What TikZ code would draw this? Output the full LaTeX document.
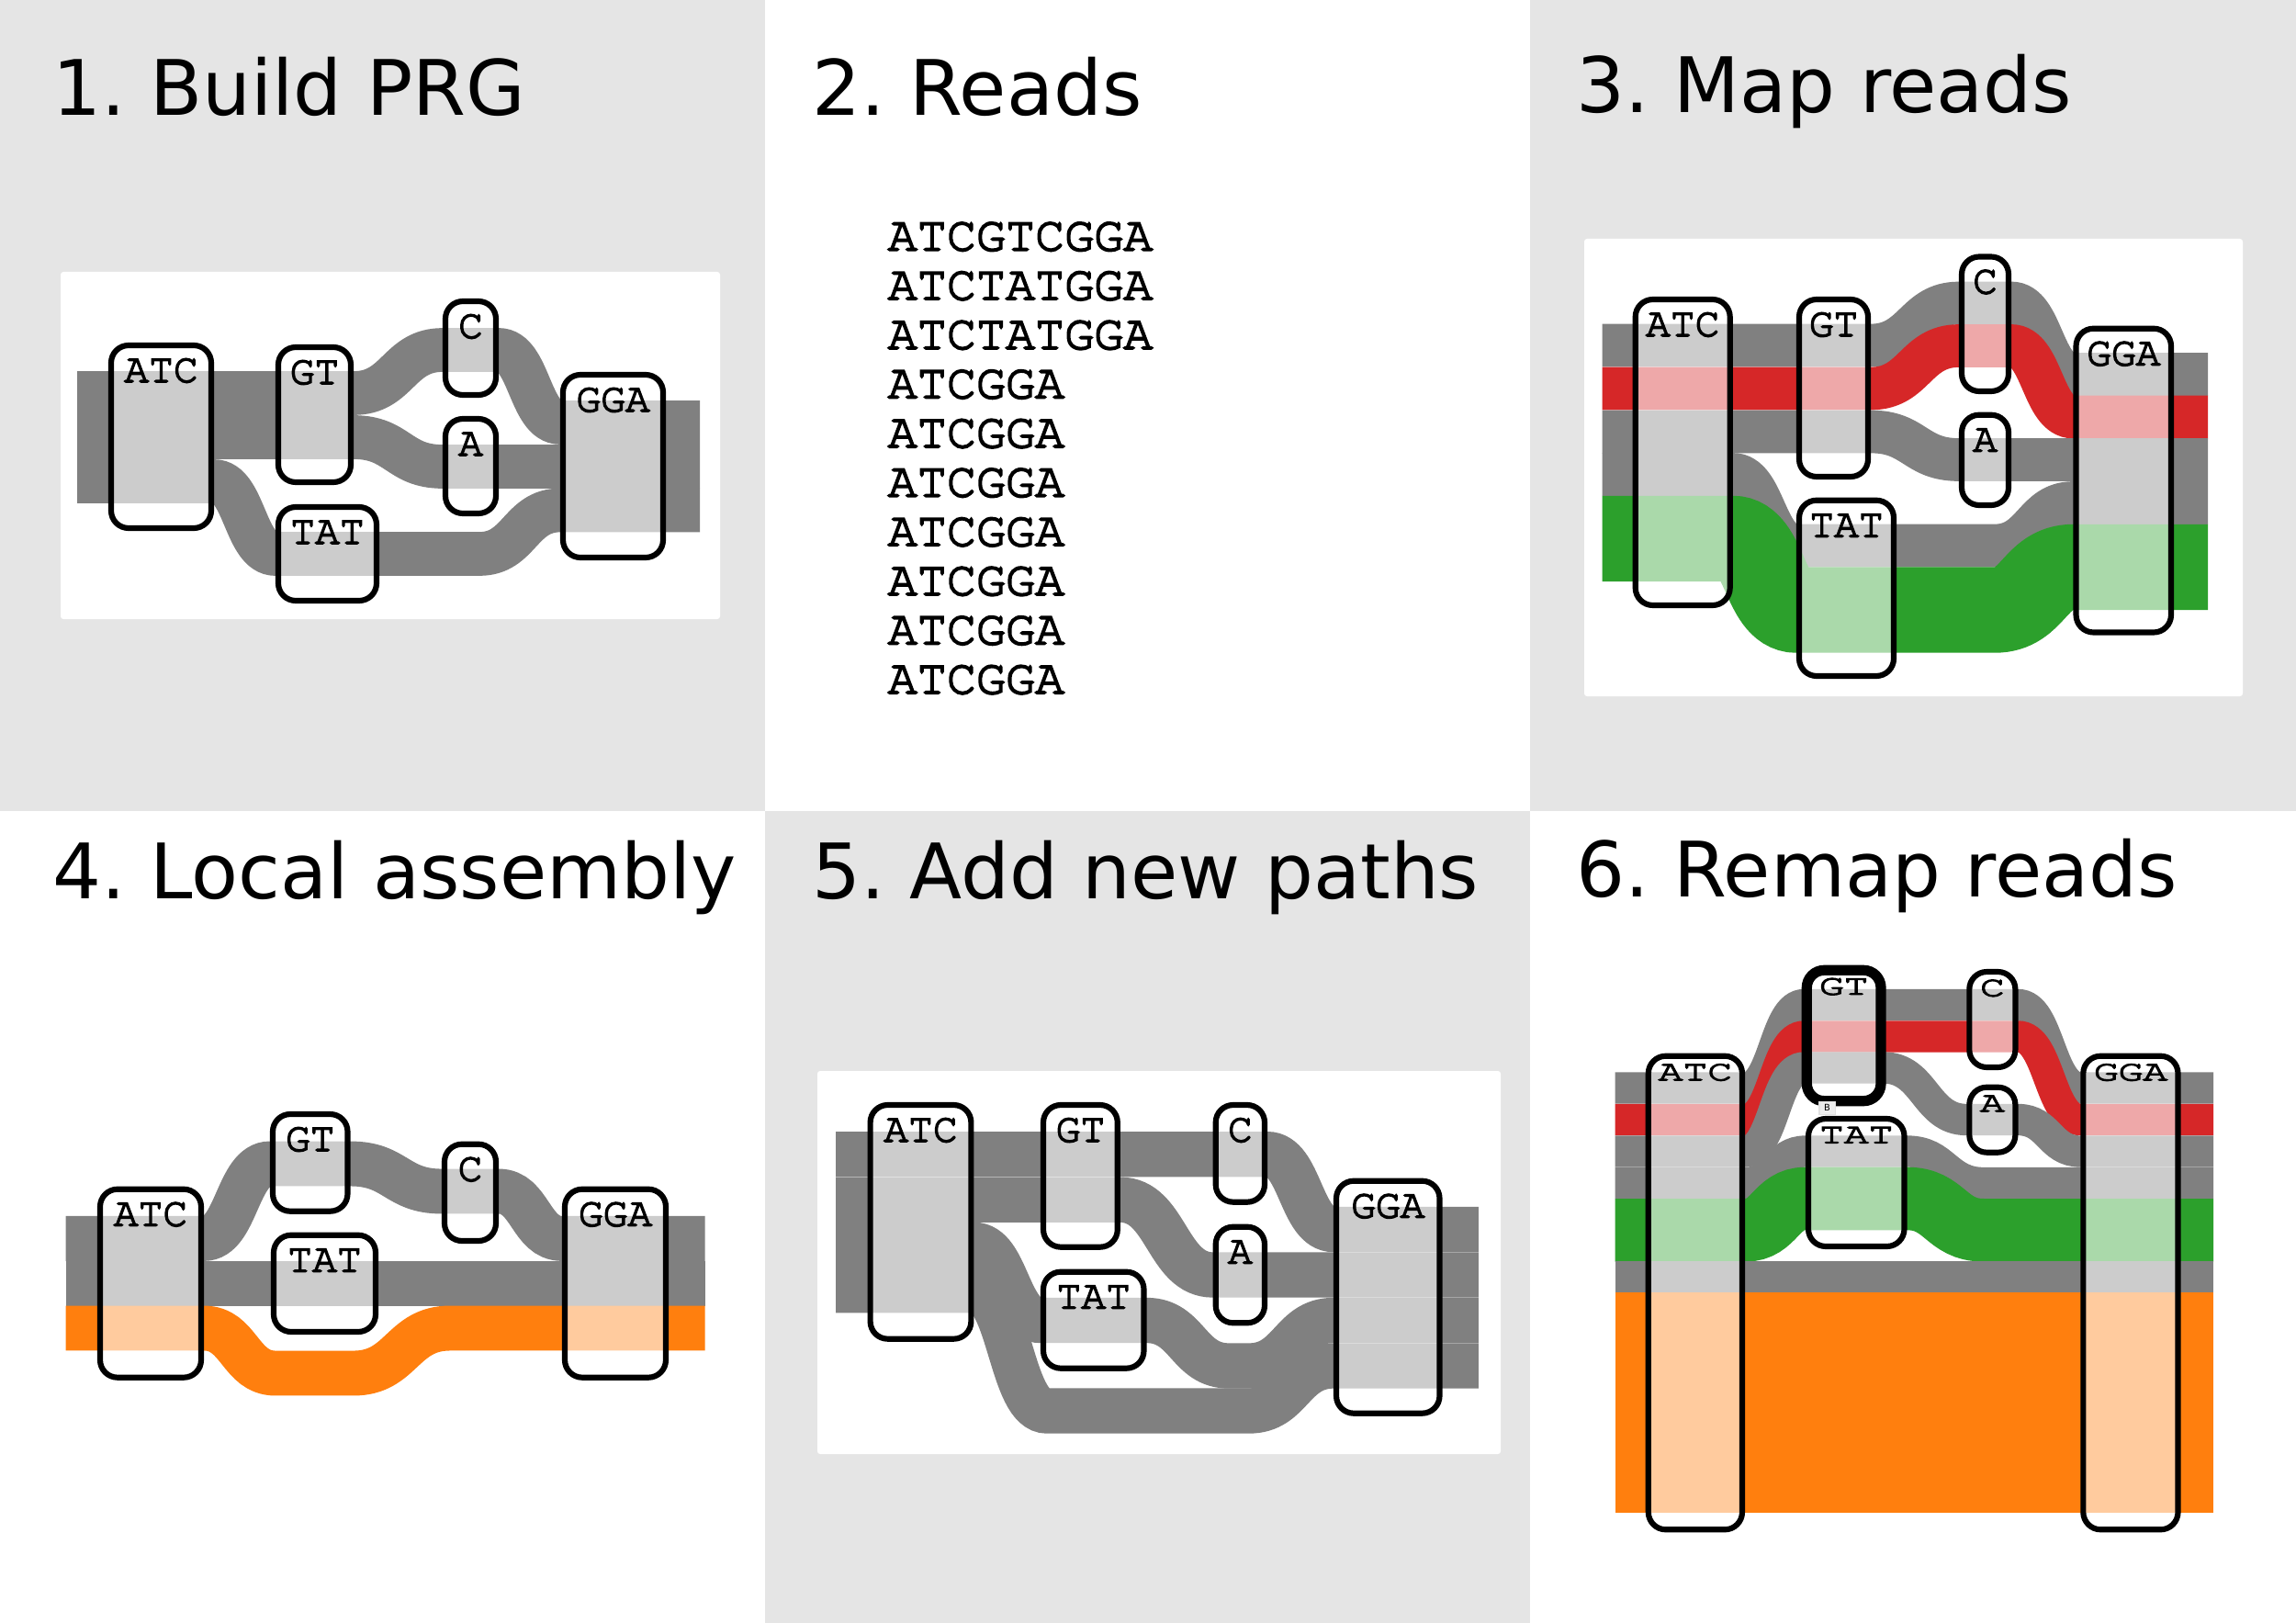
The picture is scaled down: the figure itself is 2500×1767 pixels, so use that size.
\documentclass[tikz,border=0pt]{standalone}
\usepackage{fontspec}
\usepackage{graphicx}
\usetikzlibrary{calc}
\frenchspacing
\newfontfamily\titlefont{DejaVu Sans}
\newfontfamily\seqfont{texgyrecursor}[Extension=.otf, UprightFont=*-regular, FakeBold=3.5]
\definecolor{bgg}{HTML}{E5E5E5}
\definecolor{fgray}{HTML}{808080}
\definecolor{fred}{HTML}{D62728}
\definecolor{fgreen}{HTML}{2CA02C}
\definecolor{forange}{HTML}{FF7F0E}
\tikzset{
  sk/.style={to path={let \p1=(\tikztostart), \p2=(\tikztotarget) in
     .. controls ({(\x1+\x2)/2},\y1) and ({(\x1+\x2)/2},\y2) .. (\tikztotarget)}},
  flow/.style={line width=#1*0.01cm},
  box/.style={draw=black, line width=1.75pt, fill=white, fill opacity=0.6, draw opacity=1,
     rounded corners=0.19cm, inner sep=0pt, outer sep=0pt},
  boldbox/.style={line width=3.2pt},
  lab/.style={font=\seqfont\fontsize{12.7}{14}\selectfont, inner sep=0pt, text=black},
  title/.style={font=\titlefont\fontsize{23.7}{28}\selectfont, inner sep=0pt, anchor=base west},
  reads/.style={font=\seqfont\fontsize{15.2}{17}\selectfont, inner sep=0pt, anchor=base west},
}
\newcommand\bx[7][]{%
  \node[box,#1, minimum width={(#5-#3-6)*0.01cm}, minimum height={(#6-#4-6)*0.01cm}] (#2) at ({(#3+#5)/2},{(#4+#6)/2}) {};
  \node[lab, anchor=base] (#2t) at ({(#3+#5)/2},{#4+43}) {#7};}
\newcommand\bxs[7][]{%
  \node[box,#1, minimum width={(#5-#3-6)*0.01cm}, minimum height={(#6-#4-6)*0.01cm}] (#2) at ({(#3+#5)/2},{(#4+#6)/2}) {};
  \node[lab, anchor=base] (#2t) at ({(#3+#5)/2},{#4+29.6}) {\scalebox{1}[0.7]{#7}};}
\begin{document}
\begin{tikzpicture}[x=0.01cm,y=-0.01cm]
\useasboundingbox (0,0) rectangle (2500,1767);
% panel backgrounds
\fill[white] (0,0) rectangle (2500,1767);
\fill[bgg] (0,0) rectangle (833,883);
\fill[bgg] (1666,0) rectangle (2500,883);
\fill[bgg] (833,883) rectangle (1666,1767);
\fill[white, rounded corners=0.03cm] (66,296) rectangle (784,674);
\fill[white, rounded corners=0.03cm] (1725,260) rectangle (2442,758);
\fill[white, rounded corners=0.03cm] (890,1166) rectangle (1634,1583);
% titles
\node[title] (t1) at (57,126) {1. Build PRG};
\node[title] (t2) at (884,126) {2. Reads};
\node[title] (t3) at (1716,123) {3. Map reads};
\node[title] (t4) at (57,978) {4. Local assembly};
\node[title] (t5) at (884,978) {5. Add new paths};
\node[title] (t6) at (1716,976) {6. Remap reads};
% reads
\foreach \s [count=\i from 0] in {ATCGTCGGA,ATCTATGGA,ATCTATGGA,ATCGGA,ATCGGA,ATCGGA,ATCGGA,ATCGGA,ATCGGA,ATCGGA}
  \node[reads] (r\i) at (966,{272.7+53.6*\i}) {\s};
% ---------- panel 1 ----------
\draw[fgray, flow=47.7] (84,428) -- (233,428) to[sk] (300,428) -- (385,428) to[sk] (482,381) -- (543,381) to[sk] (610,460) -- (762,460);
\draw[fgray, flow=47.7] (84,476) -- (385,476) to[sk] (482,508) -- (762,508);
\draw[fgray, flow=47.7] (84,524) -- (233,524) to[sk] (300,603) -- (522,603) to[sk] (610,555.5) -- (762,555.5);
\bx{aatc}{118}{373}{233}{578}{ATC}
\bx{agt}{300}{375}{385}{528}{GT}
\bx{ac}{482}{325}{543}{433}{C}
\bx{aa}{482}{453}{543}{562}{A}
\bx{atat}{300}{549}{413}{657}{TAT}
\bx{agga}{610}{405}{725}{610}{GGA}
% ---------- panel 3 ----------
\draw[fgray, flow=46.7] (1744.7,376) -- (2037,376) to[sk] (2133,330) -- (2190,330) to[sk] (2257.5,407.5) -- (2404,407.5);
\draw[fred, flow=46.7] (1744.7,423) -- (2037,423) to[sk] (2133,376.5) -- (2190,376.5) to[sk] (2257.5,454) -- (2404,454);
\draw[fgray, flow=46.7] (1744.7,470) -- (2037,470) to[sk] (2133,500.5) -- (2404,500.5);
\draw[fgray, flow=46.7] (1744.7,516.5) -- (1886.7,516.5) to[sk] (1956,594) -- (2172,594) to[sk] (2257.5,547.5) -- (2404,547.5);
\draw[fgreen, flow=93.4] (1744.7,586.5) -- (1886.7,586.5) to[sk] (1956,664) -- (2172,664) to[sk] (2257.5,617.5) -- (2404,617.5);
\bx{catc}{1777.7}{323}{1886.7}{662}{ATC}
\bx{cgt}{1956}{323}{2037}{522}{GT}
\bx{cc}{2133}{276.5}{2190}{429}{C}
\bx{ca}{2133}{448.7}{2190}{553}{A}
\bx{ctat}{1956}{541.7}{2065}{739}{TAT}
\bx{cgga}{2257.5}{354.7}{2367}{691.5}{GGA}
% ---------- panel 4 ----------
\draw[fgray, flow=48.9] (71.7,1348.4) -- (222,1348.4) to[sk] (294,1267) -- (381.5,1267) to[sk] (481,1297) -- (543,1297) to[sk] (612,1348.4) -- (767.7,1348.4);
\draw[fgray, flow=48.9] (71.7,1397.2) -- (767.7,1397.2);
\draw[forange, flow=48.9] (71.7,1446) -- (222,1446) to[sk] (300,1495) -- (385,1495) to[sk] (490,1446) -- (767.7,1446);
\bx{datc}{106}{1291.7}{222}{1502.7}{ATC}
\bx{dgt}{294}{1210}{381.5}{1321.7}{GT}
\bx{dc}{481}{1242.7}{543}{1354}{C}
\bx{dtat}{295}{1341.7}{412}{1453}{TAT}
\bx{dgga}{612}{1291.7}{728}{1502.7}{GGA}
% ---------- panel 5 ----------
\draw[fgray, flow=49.3] (910,1256.7) -- (1380,1256.7) to[sk] (1452,1338.5) -- (1609.8,1338.5);
\draw[fgray, flow=49.3] (910,1306.2) -- (1219.8,1306.2) to[sk] (1320.7,1388) -- (1609.8,1388);
\draw[fgray, flow=49.3] (910,1355.4) -- (1060.4,1355.4) to[sk] (1133,1437.5) -- (1248.5,1437.5) to[sk] (1338,1487) -- (1360,1487) to[sk] (1452,1437.5) -- (1609.8,1437.5);
\draw[fgray, flow=49.3] (910,1404.7) -- (1060.4,1404.7) to[sk] (1140,1536) -- (1360,1536) to[sk] (1452,1487) -- (1609.8,1487);
\bx{eatc}{944.6}{1200}{1060.4}{1460.7}{ATC}
\bx{egt}{1133}{1200}{1219.8}{1360.7}{GT}
\bx{ec}{1320.7}{1200}{1380}{1311.7}{C}
\bx{ea}{1320.7}{1332.7}{1380}{1443.3}{A}
\bx{etat}{1133}{1381.7}{1248.5}{1492.7}{TAT}
\bx{egga}{1452}{1282.7}{1570.5}{1541.7}{GGA}
% ---------- panel 6 ----------
\draw[fgray, flow=34.3] (1758.7,1184.5) -- (1900,1184.5) to[sk] (1964.3,1094) -- (2197.4,1094) to[sk] (2265.3,1184.5) -- (2410.2,1184.5);
\draw[fred, flow=34.3] (1758.7,1219) -- (1900,1219) to[sk] (1964.3,1128.5) -- (2197.4,1128.5) to[sk] (2265.3,1219) -- (2410.2,1219);
\draw[fgray, flow=34.3] (1758.7,1253.5) -- (1900,1253.5) to[sk] (1964.3,1162.5) -- (2051,1162.5) to[sk] (2141.3,1219) -- (2197.4,1219) to[sk] (2265.3,1253.5) -- (2410.2,1253.5);
\draw[fgray, flow=34.3] (1758.7,1288) -- (1900,1288) to[sk] (1966,1253.5) -- (2076.5,1253.5) to[sk] (2160,1288) -- (2410.2,1288);
\draw[fgreen, flow=68.6] (1758.7,1339.3) -- (1900,1339.3) to[sk] (1966,1305) -- (2076.5,1305) to[sk] (2160,1339.3) -- (2410.2,1339.3);
\draw[fgray, flow=34.3] (1758.7,1390.5) -- (2410.2,1390.5);
\draw[forange, flow=240] (1758.7,1527.3) -- (2410.2,1527.3);
\bxs{fatc}{1791.8}{1146.7}{1900}{1668.3}{ATC}
\bxs[boldbox]{fgt}{1964.3}{1053.3}{2051}{1201.7}{GT}
\bxs{fc}{2141.3}{1055}{2197.4}{1165}{C}
\bxs{fa}{2141.3}{1180.7}{2197.4}{1257.7}{A}
\bxs{ftat}{1966}{1215}{2076.5}{1360}{TAT}
\bxs{fgga}{2265.3}{1146.7}{2374.5}{1668.3}{GGA}
\node[fill=black!7, draw=black!12, line width=0.3pt, minimum width=0.17cm, minimum height=0.14cm,
      inner sep=0pt, font=\titlefont\fontsize{2.8}{3}\selectfont] (bmark) at (1989.5,1206.3) {B};
\end{tikzpicture}
\end{document}
